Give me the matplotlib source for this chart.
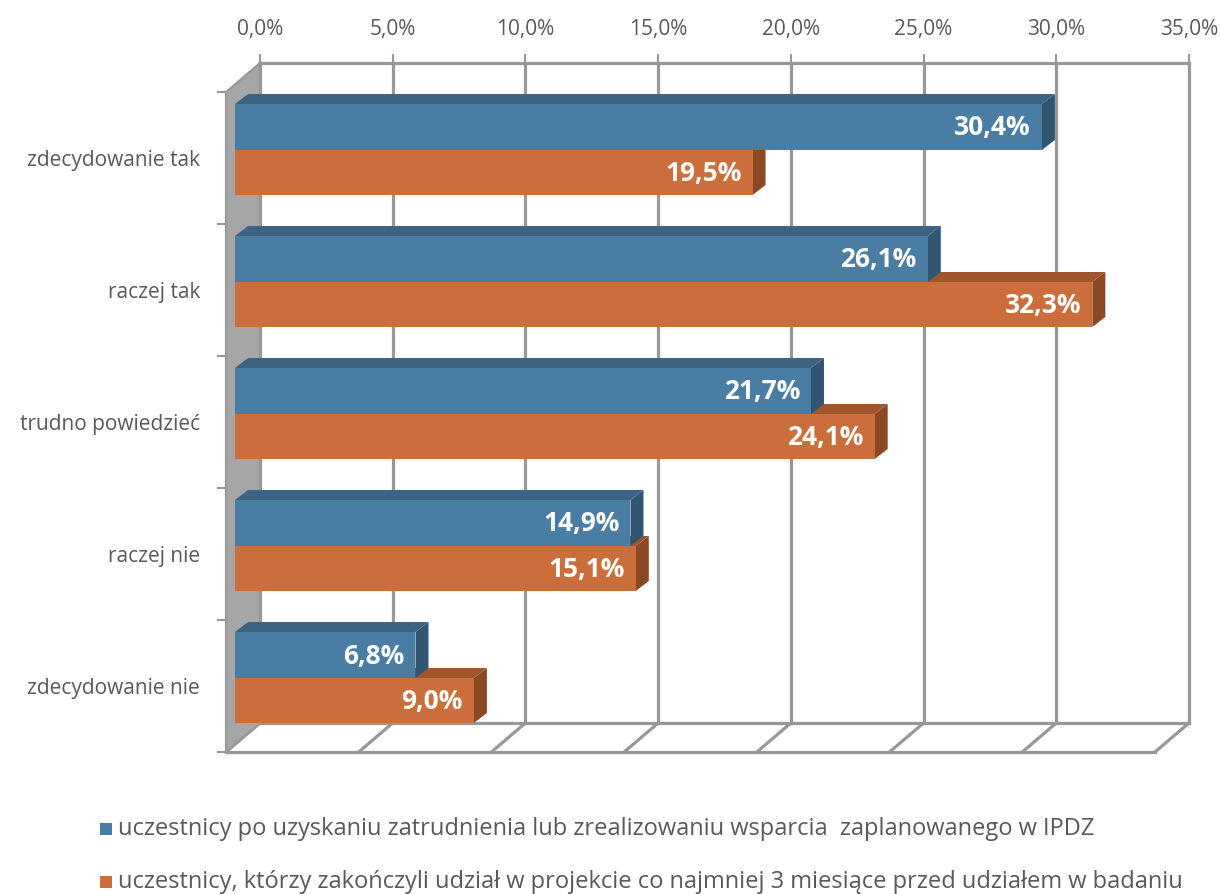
import numpy as np
import matplotlib
matplotlib.use('Agg')
import matplotlib.pyplot as plt
from matplotlib.patches import Polygon, Rectangle

categories = ['zdecydowanie tak', 'raczej tak', 'trudno powiedzieć', 'raczej nie', 'zdecydowanie nie']
po_zatrudnieniu = [30.4, 26.1, 21.7, 14.9, 6.8]
trzy_miesiace = [19.5, 32.3, 24.1, 15.1, 9.0]
series_names = ['uczestnicy po uzyskaniu zatrudnienia lub zrealizowaniu wsparcia  zaplanowanego w IPDZ',
                'uczestnicy, którzy zakończyli udział w projekcie co najmniej 3 miesiące przed udziałem w badaniu']
xticks = [0, 5, 10, 15, 20, 25, 30, 35]

plt.rcParams['font.family'] = ['Open Sans', 'DejaVu Sans']

W, H = 1221, 894
fig = plt.figure(figsize=(W / 100, H / 100), dpi=100)
# axes = front plane of the 3d box (pixels 226..1155 x 92..752)
ax = fig.add_axes([226 / W, 1 - 752 / H, (1155 - 226) / W, (752 - 92) / H])
ax.set_xlim(0, 35)
ax.set_ylim(len(categories), 0)
ax.axis('off')

pxx = (1155 - 226) / 35.0   # pixels per percent
pxy = 132.0                  # pixels per category
WX, WY = 34 / pxx, -29 / pxy     # depth of the box
BX, BY = 13 / pxx, -10 / pxy     # depth of a bar
FX = 9 / pxx                     # bar front face start
n = len(categories)

grid = '#989898'
lw = 2.3
txt = '#595959'

# back wall gridlines + top edge + ticks + labels
for v in xticks:
    ax.plot([v + WX, v + WX], [WY, n + WY], color=grid, lw=lw, clip_on=False, zorder=1)
    ax.plot([v + WX, v], [n + WY, n], color=grid, lw=lw, clip_on=False, zorder=1)
    ax.plot([v + WX, v + WX], [WY - 8 / pxy, WY], color=grid, lw=1.5, clip_on=False, zorder=1)
    ax.text(v + WX, -0.47, ('%.1f%%' % v).replace('.', ','), ha='center', va='center',
            fontsize=15, color=txt)
ax.plot([WX, 35 + WX], [WY, WY], color=grid, lw=lw, clip_on=False, zorder=1)
ax.plot([WX, 35 + WX], [n + WY, n + WY], color=grid, lw=lw, clip_on=False, zorder=1)
ax.plot([0, 35], [n, n], color=grid, lw=lw, clip_on=False, zorder=1)

# left side wall
ax.add_patch(Polygon([[WX, WY], [WX, n + WY], [0, n], [0, 0]], closed=True,
                     facecolor='#A6A6A6', edgecolor=grid, lw=1.5, clip_on=False, zorder=2))
for i in range(n + 1):
    ax.plot([-8 / pxx, 0], [i, i], color=grid, lw=1.5, clip_on=False, zorder=2)

for i, cat in enumerate(categories):
    ax.text(-26 / pxx, i + 0.52, cat, ha='right', va='center', fontsize=15, color=txt)


def bar3d(x0, x1, y0, y1, cf, ct, cs, z):
    front = Rectangle((x0, y0), x1 - x0, y1 - y0, facecolor=cf, edgecolor='none', zorder=z + 0.2)
    top = Polygon([[x0, y0], [x1, y0], [x1 + BX, y0 + BY], [x0 + BX, y0 + BY]],
                  facecolor=ct, edgecolor='none', zorder=z)
    side = Polygon([[x1, y0], [x1 + BX, y0 + BY], [x1 + BX, y1 + BY], [x1, y1]],
                   facecolor=cs, edgecolor='none', zorder=z + 0.1)
    for p in (top, side, front):
        p.set_clip_on(False)
        ax.add_patch(p)


for i in range(n):
    yb0, yb1 = i + 12 / pxy, i + 58 / pxy
    yo0, yo1 = yb1, i + 103 / pxy
    bar3d(FX, FX + trzy_miesiace[i], yo0, yo1, '#CC6E3B', '#A0562D', '#8A4824', 3)
    bar3d(FX, FX + po_zatrudnieniu[i], yb0, yb1, '#4A7DA3', '#3D6485', '#305672', 4)
    for val, ya, yb in ((po_zatrudnieniu[i], yb0, yb1), (trzy_miesiace[i], yo0, yo1)):
        ax.text(FX + val - 11 / pxx, (ya + yb) / 2 + 1 / pxy, ('%.1f%%' % val).replace('.', ','),
                ha='right', va='center', fontsize=19, fontweight='bold', color='white', zorder=6)

# legend
for k, (name, col) in enumerate(zip(series_names, ['#4A7DA3', '#CC6E3B'])):
    yc = 829 + 53 * k
    fig.patches.append(Rectangle((100 / W, 1 - (yc + 6) / H), 12 / W, 12 / H,
                                 facecolor=col, edgecolor='none', transform=fig.transFigure))
    fig.text(118 / W, 1 - yc / H, name, ha='left', va='center', fontsize=17, color=txt)

fig.savefig('out.png', dpi=100)
